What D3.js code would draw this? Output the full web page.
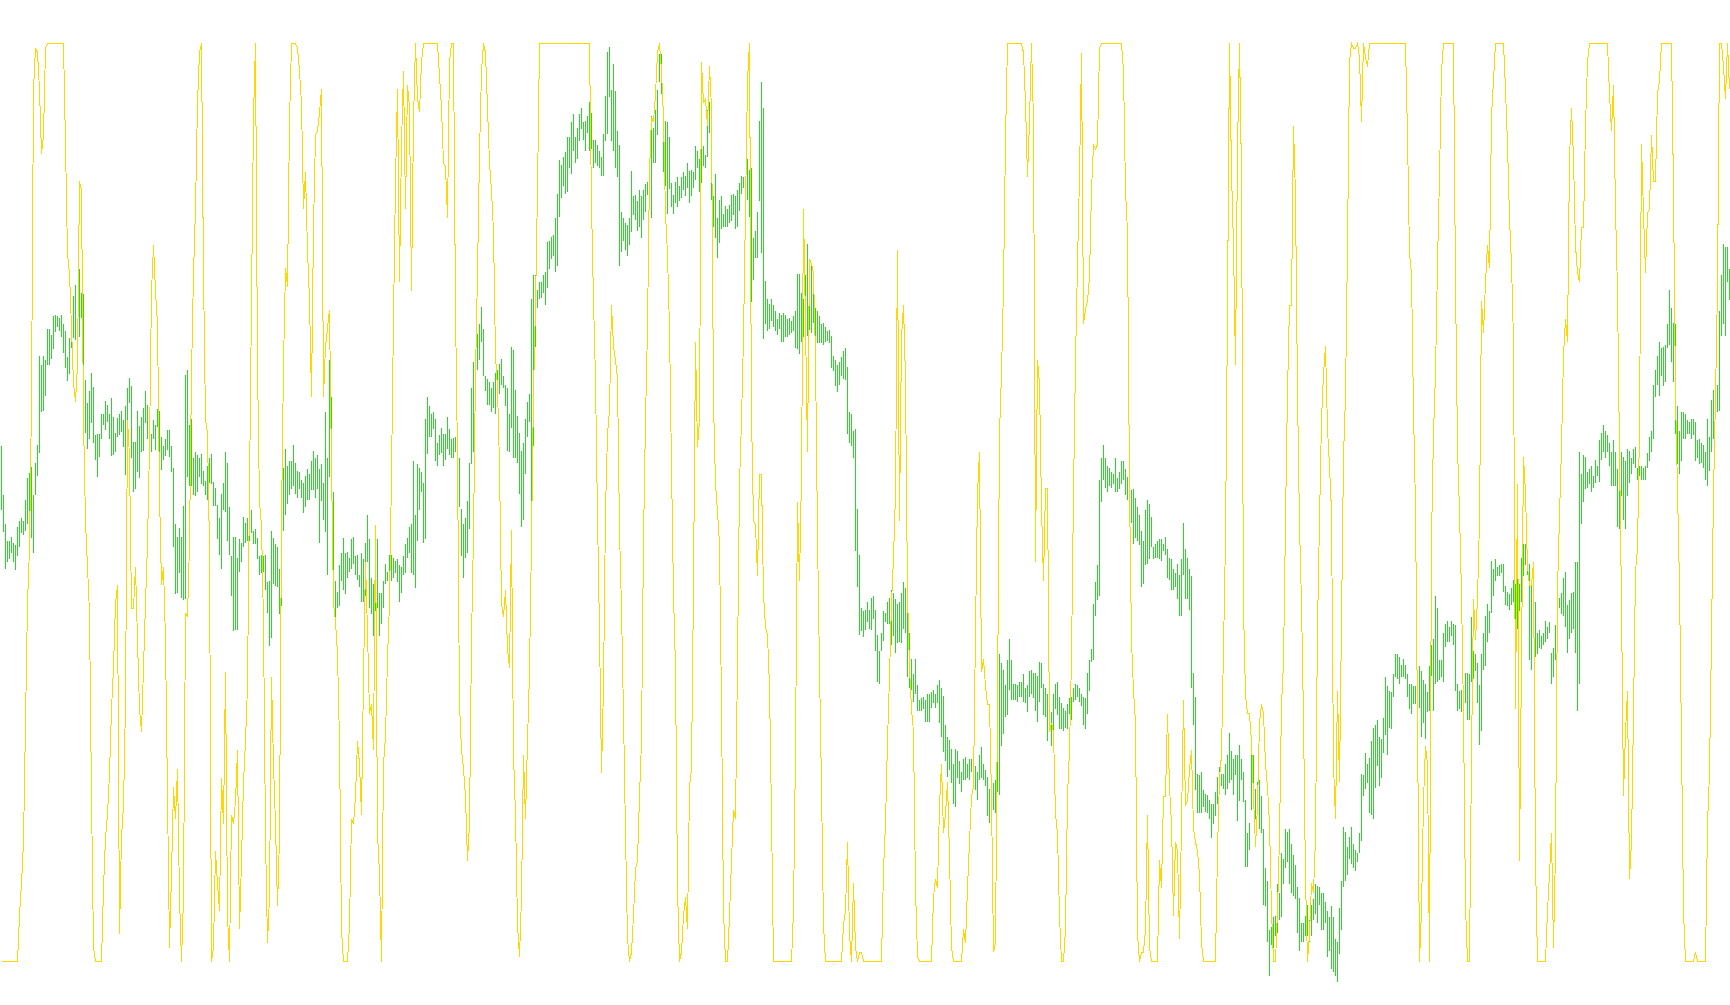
<!DOCTYPE html>
<html>
<head>
<meta charset="utf-8">
<script src="https://cdn.jsdelivr.net/npm/d3@7"></script>
<style>
html,body{margin:0;padding:0;background:#ffffff;overflow:hidden;}
svg{display:block;}
</style>
</head>
<body>
<svg id="chart" width="1730" height="1005"></svg>
<script>
// Bar highs (price points)
const barHigh = [
920,840,792,765,765,772,762,758,788,797,
803,797,832,868,876,886,840,892,922,1068,
1052,1068,1060,1112,1112,1102,1133,1135,1133,1130,
1135,1120,1108,1065,1097,1110,1165,1184,1072,1210,
1170,1168,1028,990,1010,1040,1017,938,940,940,
973,973,993,987,973,999,968,942,966,972,
978,963,985,1015,1032,1018,927,927,978,953,
968,983,1010,988,952,940,962,955,980,978,
935,920,932,947,947,920,885,792,772,787,
772,822,1037,1045,955,964,900,910,905,900,
907,880,863,888,900,907,862,852,824,802,
842,860,910,893,820,740,772,772,738,768,
762,805,795,802,790,815,782,785,770,740,
742,740,742,698,700,782,770,760,755,720,
825,885,915,887,895,
895,922,892,880,878,865,860,872,882,875,
895,912,900,906,882,890,860,975,900,1060,
1000,845,700,682,725,745,770,745,747,738,
768,772,740,742,710,745,735,762,808,768,
705,695,702,768,680,680,700,727,715,742,
742,738,732,735,725,722,740,760,770,788,
792,895,808,890,885,878,860,965,1000,985,
973,975,965,925,938,950,940,940,968,948,
932,933,935,905,900,818,792,802,830,892,
1015,1057,1065,1103,1120,1148,1112,1035,1030,1025,
1015,1025,1040,1045,1055,1063,1035,1020,1015,972,
1082,1077,1012,970,942,912,925,965,992,1005,
1160,1200,1200,1175,1188,1188,1200,1205,1254,1255,
1262,1265,1292,1332,1388,1380,1392,1400,1425,1425,
1450,1462,1425,1440,
1462,1472,1450,1452,1460,1482,1465,1420,1420,1412,
1402,1392,1430,1492,1564,1572,1502,1545,1500,1435,
1412,1302,1292,1285,1282,1292,1370,1328,1330,1320,
1338,1328,1338,1348,1352,1365,1460,1440,1470,1502,
1560,1560,1472,1452,1450,1425,1350,1330,1352,1360,
1345,1360,1368,1362,1382,1370,1372,1368,1410,1402,
1390,1420,1410,1395,1470,1482,1475,1328,1365,1292,
1322,1328,1300,1312,1308,1314,1330,1332,1328,1338,
1350,1362,1360,1338,1390,1372,1375,1260,1272,1302,
1452,1515,1472,1190,1160,1152,1160,1150,1140,1128,
1138,1135,1138,1135,1128,1130,1125,1132,1140,1202,
1202,1170,1160,1200,1250,1225,1215,1180,1145,1140,
1132,1120,1122,1115,1108,1110,1100,1068,1060,1052,
1058,1065,1075,1080,1050,975,972,945,948,818,
742,655,650,652,
665,652,672,675,652,612,585,615,650,648,
665,672,685,680,670,662,665,680,698,688,
660,615,572,548,572,530,505,508,510,505,
515,515,518,522,515,530,538,525,512,465,
445,440,425,400,425,422,405,388,408,412,
400,408,408,405,398,388,415,428,400,390,
380,360,352,370,375,412,580,565,555,530,
570,605,570,532,532,530,535,535,548,525,
530,552,555,550,550,545,568,565,532,525,
515,548,485,515,532,535,510,500,492,488,
498,508,510,525,532,530,525,515,510,508,
550,570,588,662,698,725,865,900,922,900,
888,885,878,875,900,868,878,895,895,882,
870,858,848,850,835,820,808,782,765,815,
832,825,805,755,
760,765,768,768,760,772,752,738,735,720,
712,728,710,735,795,752,738,720,708,550,
510,385,382,388,358,352,350,342,335,335,
355,380,395,385,385,400,415,452,422,408,
415,415,432,408,388,342,288,305,440,415,
360,372,375,348,295,230,210,130,135,150,
152,205,190,255,245,295,290,295,270,252,
235,200,182,140,140,152,170,145,170,180,
205,202,200,190,190,175,160,150,168,150,
115,110,165,210,298,290,265,282,298,270,
260,255,288,385,382,418,400,410,438,460,
465,472,445,442,475,542,528,520,518,548,
580,580,575,562,572,562,548,532,532,528,
528,518,560,552,538,532,518,560,595,605,
675,655,570,570,
615,630,635,625,635,630,628,532,520,522,
522,550,550,548,640,585,580,565,530,580,
615,642,662,650,732,720,735,722,725,728,
728,692,682,678,688,702,695,762,695,738,
760,760,752,728,695,728,665,615,620,610,
615,635,625,632,582,590,628,665,672,680,
705,715,660,668,680,682,730,730,910,875,
905,902,878,882,888,872,898,888,930,942,
955,945,938,925,910,930,910,882,910,910,
902,895,915,912,900,915,918,885,888,888,
885,888,908,935,945,1020,1045,1068,1090,1080,
1082,1085,1120,1175,1145,1122,1120,985,945,975,
975,972,962,960,965,965,960,930,932,925,
922,910,965,935,995,1012,1008,1020,1140,1200,
1250,1245,1245,1210
];

// Bar lows (price points)
const barLow = [
815,780,720,730,735,745,730,718,740,755,
778,774,782,792,790,770,745,840,872,908,
975,978,1002,1052,1052,1062,1078,1107,1115,1108,
1098,1073,1048,1027,1038,1080,1096,1094,1050,1098,
1130,1000,942,915,932,958,925,898,870,903,
932,955,947,960,932,904,906,910,935,938,
943,918,873,902,990,900,845,850,878,868,
910,912,957,932,912,910,932,914,952,899,
881,898,904,914,903,877,755,678,680,712,
672,668,670,870,855,855,840,838,845,870,
858,855,840,832,860,858,822,822,768,742,
720,815,812,765,742,675,618,620,620,715,
730,755,762,765,765,778,760,760,735,710,
712,715,685,648,594,607,695,692,690,645,
658,782,807,825,840,
850,855,842,835,850,835,810,820,832,832,
848,848,835,850,762,830,800,780,710,870,
888,710,630,655,658,700,685,678,705,715,
720,728,710,702,690,665,665,675,730,655,
645,610,650,655,610,630,655,695,700,690,
700,705,712,698,665,680,710,712,738,745,
712,710,688,765,815,845,762,768,907,935,
935,948,895,888,905,908,887,898,915,905,
900,900,910,885,820,740,705,738,745,785,
890,910,1015,1045,1060,1090,1035,1010,988,988,
975,982,972,1000,1005,1020,1015,985,912,910,
950,900,900,892,842,788,800,875,935,960,
740,920,1082,1145,1160,1162,1170,1150,1178,1210,
1225,1230,1205,1215,1295,1325,1345,1332,1335,1375,
1365,1402,1382,1390,
1418,1438,1420,1402,1432,1402,1405,1375,1382,1378,
1375,1362,1362,1418,1430,1490,1418,1402,1375,1360,
1215,1238,1255,1240,1230,1248,1270,1298,1290,1272,
1278,1260,1290,1302,1330,1338,1292,1382,1382,1428,
1515,1495,1368,1345,1300,1340,1310,1300,1318,1310,
1320,1325,1338,1328,1342,1318,1328,1342,1355,1375,
1335,1350,1378,1375,1392,1432,1322,1278,1260,1228,
1252,1275,1278,1278,1278,1284,1288,1298,1275,1278,
1305,1332,1342,1305,1322,1295,1155,1192,1228,1228,
1320,1235,1095,1120,1108,1112,1125,1115,1108,1102,
1112,1090,1090,1098,1098,1102,1105,1108,1080,1078,
1070,1090,1098,1100,1100,1110,1105,1122,1100,1088,
1088,1088,1085,1090,1092,1088,1048,1042,1018,1008,
1020,1035,1030,1028,940,925,920,900,748,690,
612,618,608,620,
632,622,620,638,585,535,532,585,602,632,
630,630,595,610,582,598,600,598,622,615,
542,525,522,502,515,488,488,488,490,470,
470,470,492,500,492,500,468,445,420,405,
380,390,370,335,330,378,368,355,375,375,
378,375,388,375,358,342,375,378,375,365,
315,305,325,325,320,355,350,430,450,478,
480,522,505,505,505,502,510,510,502,500,
485,510,515,508,488,470,502,525,480,478,
438,488,430,432,490,480,458,458,455,460,
458,482,472,502,505,510,502,495,465,458,
482,520,568,570,642,668,675,828,865,852,
845,855,852,858,845,845,850,858,865,840,
832,805,795,760,770,765,758,690,695,725,
728,735,755,735,
738,738,735,732,748,742,705,702,685,685,
690,670,642,642,710,670,670,652,525,465,
358,320,320,320,330,322,320,310,280,302,
315,335,365,365,360,350,360,370,375,350,
382,308,340,375,338,232,232,260,325,348,
310,330,295,288,170,168,110,55,105,100,
120,125,145,150,205,230,240,205,190,185,
180,125,95,110,110,120,120,110,120,145,
155,140,170,130,130,140,85,95,65,60,
55,45,90,130,200,210,220,245,238,230,
225,240,255,275,348,360,370,320,318,310,
362,398,365,378,418,448,415,460,458,510,
542,540,532,542,542,540,510,490,482,498,
498,478,492,445,468,442,485,488,545,488,
532,535,538,542,
535,592,600,600,610,595,520,488,490,485,
505,500,472,472,535,540,552,500,432,455,
555,560,600,615,648,675,700,708,708,712,
682,660,658,652,660,665,632,622,650,665,
708,725,710,570,555,665,575,580,590,588,
595,600,605,615,532,542,570,632,655,645,
642,625,582,605,615,622,582,488,532,792,
828,850,852,858,845,852,860,872,862,898,
910,900,910,888,855,855,855,788,785,838,
800,785,838,860,875,890,885,865,872,865,
865,865,885,895,910,932,1000,1020,1002,1035,
1018,1025,1080,1085,1058,1025,940,890,875,895,
932,932,940,940,932,938,895,900,890,892,
885,865,855,880,910,932,965,975,978,1100,
1120,1100,1188,1158
];

// Oscillator values (0-100)
const oscValues = [
0,0,0,0,0,0,0,0,0,5,
8.5,13,26,39,45,61,95,99.5,99,95,
88,90,99.5,100,100,100,100,100,100,100,
100,100,89,77,75,69,63,61,65,85,
84,59,48,43,38,18,1.5,0,0,0,
0,8,13.5,16,20.5,27.5,32,39,41,3,
13.5,17,28,59,55,38.5,38.5,43,35,27.5,
25,32,39,45.5,56,73,78,73,69.5,51,
41,43,35,18,1.5,9.5,19,15.5,21,7,
0,7,38,37.5,45.5,64,75,82,93.5,99,
100,75,59,57.5,45,0,1.5,12,8.5,5.5,
20,15,31.5,5,0,16,15,17.5,23,3.5,
11,19.5,24,30,51.5,72,92,100,65,50,
47.5,37,13.5,2,7,31,21.5,15,6,13.5,
48,65,75.5,73.5,91.5,100,100,100,99.5,97,
93.5,82,86,77.5,72,61.5,80,90,90.5,92.5,
95,61.5,67,69,71,54,39,37,33.5,24,
3.5,0,0,0,4,15.5,15,18,24,21.5,
16,31,43.5,36,27,28,23,47.5,14,9.5,
0,21.5,24.5,33,39,53,70,85,95,74,
89,97,82,95.5,93,73,91.5,100,94,92.5,
98,100,100,100,100,100,100,100,100,96.5,
93,87,86.5,81,98,100,100,71,55,28,
23,21,18,11,15,35,46.5,64,75,88,
97,100,99,93,87,84,79.5,66,62.5,54,
39,37.5,40.5,34,32,47,22.5,16,4,0.5,
7,22.5,15.5,24,31.5,46,62,71.5,84,100,
100,100,100,100,100,100,100,100,100,100,
100,100,100,100,100,100,100,100,100,100,
100,100,100,100,100,82.5,72,63.5,48.5,36,
20.5,30,49,57.5,60,71.5,67,65.5,63.5,47,
38.5,27,14,2.5,0,1,5,10,11,18,
24,46,59,69,86,92,91.5,94.5,99,100,
97,92,81.5,77,69,54,40,32,8,0,
1,5,7,3.5,19,21,41,67.5,56,59,
98,93.5,94,91,97.5,93,61,52,49,45.5,
28,5.5,0,0,5,11,16.5,15.5,32.5,52,
59,68,82,96,100,59.5,48,47.5,42,53,
53,40,36.5,35.5,30,16,0,0,0,0,
0,0,0,0,0,0,5.5,23,50,41.5,
53,82,69.5,55.5,76.5,76,75,66,46.5,32,
19,4,0,0,0,0,0,0,0,0,
0,4,5.5,13,3,0,8.5,1.5,0,1,
1,0,0,0,0,0,0,0,0,0,
0,10,15,24,31,39,44,51,77.5,48,
68,71.5,63.5,40,32,27.5,25,8,0.5,0,
0,0,0,0,0,0,7,9,8,17,
21.5,14,16,19.5,11.5,1.5,0,0,0,0,
0,3.5,2,8,13,18,19,36,51,55.5,
31.5,33,30,28,28,18,1,2,28,57.5,
64,73.5,89.5,100,100,100,100,100,100,100,
100,99,93.5,85.5,91.5,100,91.5,43.5,65.5,63,
49.5,41.5,51.5,51.5,25,26,25,16,14,5,
0,0,3.5,18,23,33,51,65.5,76,85.5,
99,69.5,71,72,74.5,84,89,88.5,89,99.5,
100,100,100,100,100,100,100,100,100,100,
100,97,84,79.5,51.5,35,29.5,26,3,0,
1,1,3.5,16,1.5,0,0,0,0,11,
8,18,18,27,19,15,5,13,12,2.5,
15,28.5,17,17.5,21,23,14.5,13,12,9.5,
2,0,0,0,0,0,0,0,12,20,
22.5,34,46,71,100,86,78,65,88.5,100,
85.5,38.5,29,27,27,24,18,12.5,17,26,
28,27,21.5,19,15,5.5,0,0,5.5,13.5,
28,32.5,48,62,71.5,71.5,91,83.5,62,47.5,
39,26.5,9,0,3,8.5,7.5,13.5,36.5,48,
59,64,67,58,54,49,21.5,15.5,29.5,19.5,
37,55,61.5,78,98,100,99.5,99.5,100,98.5,
91.5,100,98.5,97.5,100,100,100,100,100,100,
100,100,100,100,100,100,100,100,100,100,
100,100,100,90,77,75,60,49.5,26,0,
5.5,17.5,23.5,21.5,0,46,57.5,64,76,85.5,
97,100,100,100,100,100,100,74,56,49,
40,27,6,0,0,22.5,39.5,35,39.5,48,
72,68.5,74,78,75.5,92,96,100,100,100,
100,100,95,89,81,76,67.5,27.5,52,11,
33,55,51,43,41,41,43.5,11,0,0,
0,0,0,5.5,9.5,14,1.5,12,40.5,48.5,
56,66,70,67.5,87.5,93,87.5,78,75,74,
80,80,91,98,100,100,100,100,100,100,
100,100,100,100,94.5,90.5,95.5,82,73,55.5,
39,18,25,29.5,9,13,27,42.5,45,58,
89,81.5,75,81.5,82,90,85,85,94.5,96,
100,100,100,100,100,100,84,61.5,51.5,41,
24,5.5,0,0,0,0,0,1,0,0,
0,0,0,15,20.5,35.5,51,61.5,73.5,100,
100,97.5,94,100,95
];

const W = 1730, H = 1005;
const svg = d3.select('#chart');
svg.append('rect').attr('width', W).attr('height', H).attr('fill', '#ffffff');

const nBars = Math.min(barHigh.length, barLow.length);
const nOsc = oscValues.length;
const nMax = Math.max(nBars, nOsc);

const x = d3.scaleLinear().domain([0, 864]).range([1, 1729]);
const yPrice = d3.scaleLinear().domain([6.8, 1649]).range([H, 0]);
const yOsc = d3.scaleLinear().domain([0, 100]).range([961.5, 43.5]);

const bars = d3.range(nBars).map(i => ({i, hi: barHigh[i], lo: barLow[i]}));

svg.append('g')
  .attr('shape-rendering', 'crispEdges')
  .selectAll('rect')
  .data(bars)
  .join('rect')
  .attr('x', d => Math.round(x(d.i)))
  .attr('width', 1)
  .attr('y', d => Math.round(yPrice(d.hi)))
  .attr('height', d => Math.max(1, Math.round(yPrice(d.lo)) - Math.round(yPrice(d.hi))))
  .attr('fill', '#22DD22');

const line = d3.line()
  .x((d, i) => Math.round(x(i)) + 0.5)
  .y(d => yOsc(d));

svg.append('path')
  .datum(oscValues)
  .attr('d', line)
  .attr('fill', 'none')
  .attr('stroke', '#FFD700')
  .attr('stroke-width', 1)
  .attr('shape-rendering', 'crispEdges');
</script>
</body>
</html>
